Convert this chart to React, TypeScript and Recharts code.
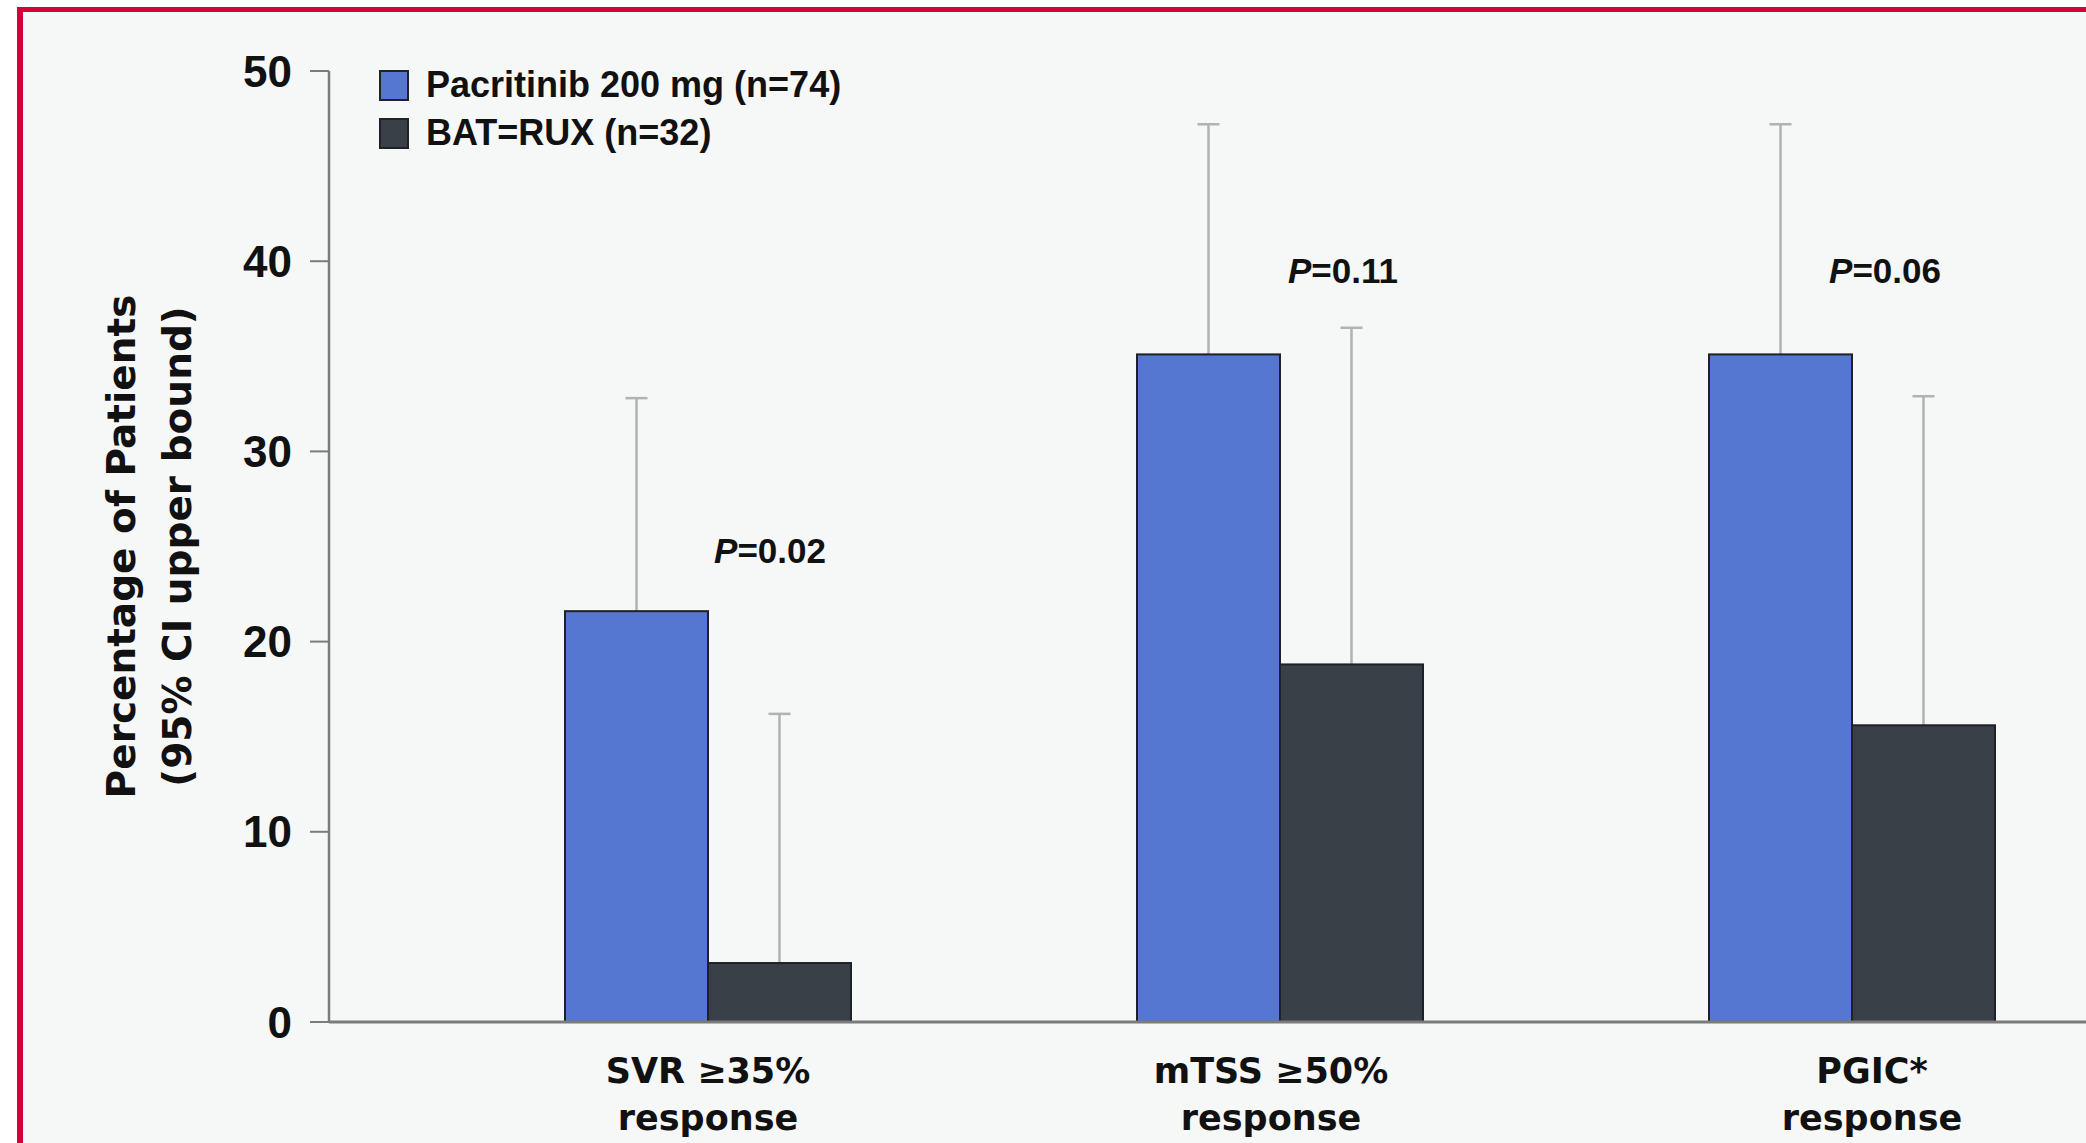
import React from 'react';
import { BarChart, Bar, XAxis, YAxis, Legend, ReferenceDot } from 'recharts';

const categories = ['SVR ≥35% response', 'mTSS ≥50% response', 'PGIC* response'];
const seriesNames = ['Pacritinib 200 mg (n=74)', 'BAT=RUX (n=32)'];
const pacritinib = [21.6, 35.1, 35.1];
const pacritinibUpper = [32.8, 47.2, 47.2];
const batRux = [3.1, 18.8, 15.6];
const batRuxUpper = [16.2, 36.5, 32.9];
const pValues = ['0.02', '0.11', '0.06'];
const pValueLevels = [24.8, 39.5, 39.5];
const yTicks = [0, 10, 20, 30, 40, 50];

const data = categories.map((name, i) => ({
  name,
  pac: pacritinib[i],
  pacUp: pacritinibUpper[i],
  bat: batRux[i],
  batUp: batRuxUpper[i],
}));

// horizontal shifts (px) of the P labels and category labels from the category centre
const pLabelDx = [62, 63, 33];
const catLabelDx = [0, -9, 20];

const ARIAL = '"Liberation Sans", Arial, Helvetica, sans-serif';
const DEJAVU = '"DejaVu Sans", Verdana, sans-serif';
const AXIS_GREY = '#7b7b7b';
const WHISKER = '#b2b2b2';

// bar + one-sided upper CI whisker
const barWithUpper = (upperKey: string) => (props: any) => {
  const { x, y, width, height, fill, payload, value } = props;
  const v = Array.isArray(value) ? value[1] - value[0] : value;
  const perUnit = v ? height / v : 0;
  const upperY = y + height - payload[upperKey] * perUnit;
  const cx = x + width / 2;
  return (
    <g>
      <line x1={cx} x2={cx} y1={upperY} y2={y} stroke={WHISKER} strokeWidth={2.5} />
      <line x1={cx - 11} x2={cx + 11} y1={upperY} y2={upperY} stroke={WHISKER} strokeWidth={2.5} />
      <rect x={x} y={y} width={width} height={height} fill={fill} stroke="#1e2125" strokeWidth={2} />
    </g>
  );
};

const XTick = (props: any) => {
  const { x, y, payload, index } = props;
  const text: string = payload.value;
  const cut = text.lastIndexOf(' ');
  const tx = x + (catLabelDx[index] || 0);
  return (
    <g>
      <text x={tx} y={y + 61} textAnchor="middle" fontFamily={DEJAVU} fontWeight={700} fontSize={35} fill="#111">
        {text.slice(0, cut)}
      </text>
      <text x={tx} y={y + 108} textAnchor="middle" fontFamily={DEJAVU} fontWeight={700} fontSize={35} fill="#111">
        {text.slice(cut + 1)}
      </text>
    </g>
  );
};

const YTitle = (props: any) => {
  const vb = props.viewBox;
  const cy = vb.y + vb.height / 2;
  const x1 = vb.x - 94;
  const x2 = vb.x - 38;
  const common = { textAnchor: 'middle' as const, fontFamily: DEJAVU, fontWeight: 700, fontSize: 39, fill: '#111' };
  return (
    <g>
      <text x={x1} y={cy} transform={`rotate(-90, ${x1}, ${cy})`} {...common}>
        Percentage of Patients
      </text>
      <text x={x2} y={cy} transform={`rotate(-90, ${x2}, ${cy})`} {...common}>
        (95% CI upper bound)
      </text>
    </g>
  );
};

const renderLegend = (props: any) => {
  const items = [...(props.payload || [])].sort(
    (a: any, b: any) => seriesNames.indexOf(a.value) - seriesNames.indexOf(b.value)
  );
  return (
    <div>
      {items.map((entry: any) => (
        <div key={entry.value} style={{ display: 'flex', alignItems: 'center', height: 48 }}>
          <span
            style={{
              display: 'inline-block',
              boxSizing: 'border-box',
              width: 30,
              height: 31,
              background: entry.color,
              border: '2px solid #1e2125',
              marginRight: 17,
            }}
          />
          <span style={{ fontFamily: ARIAL, fontWeight: 700, fontSize: 36, color: '#111', whiteSpace: 'nowrap' }}>
            {entry.value}
          </span>
        </div>
      ))}
    </div>
  );
};

const pLabel = (i: number) => (props: any) => {
  const vb = props.viewBox;
  const cx = vb.x + vb.width / 2 + pLabelDx[i];
  const cy = vb.y + vb.height / 2 + 12.5;
  return (
    <text x={cx} y={cy} textAnchor="middle" fontFamily={ARIAL} fontWeight={700} fontSize={35} fill="#111">
      <tspan fontStyle="italic">P</tspan>={pValues[i]}
    </text>
  );
};

export default function App() {
  return (
    <div style={{ position: 'fixed', left: 0, top: 0, width: 2086, height: 1143, overflow: 'hidden', background: '#fff' }}>
      <div
        style={{
          position: 'absolute',
          left: 17,
          top: 7,
          width: 2200,
          height: 1300,
          background: '#f6f7f7',
          borderLeft: '6px solid #d3023a',
          borderTop: '5px solid #d3023a',
        }}
      />
      <div style={{ position: 'absolute', left: 0, top: 0 }}>
        <BarChart
          width={2200}
          height={1143}
          data={data}
          margin={{ top: 71, right: 0, bottom: 0, left: 229 }}
          barCategoryGap="25%"
          barGap={0}
        >
          <XAxis
            dataKey="name"
            padding={{ left: 93, right: 62 }}
            height={121}
            tickLine={false}
            tickSize={0}
            tickMargin={0}
            interval={0}
            axisLine={{ stroke: AXIS_GREY, strokeWidth: 3 }}
            tick={<XTick />}
          />
          <YAxis
            domain={[0, 50]}
            ticks={yTicks}
            interval={0}
            width={100}
            tickSize={19}
            tickMargin={18}
            axisLine={{ stroke: AXIS_GREY, strokeWidth: 2.5 }}
            tickLine={{ stroke: AXIS_GREY, strokeWidth: 2 }}
            tick={{ fill: '#111', fontSize: 44, fontWeight: 700, fontFamily: ARIAL }}
            label={{ content: YTitle }}
          />
          <Legend
            layout="horizontal"
            verticalAlign="middle"
            align="center"
            content={renderLegend}
            wrapperStyle={{ left: 379, top: 61, width: 'auto' }}
          />
          <Bar
            dataKey="pac"
            name={seriesNames[0]}
            fill="#5577d1"
            shape={barWithUpper('pacUp')}
            isAnimationActive={false}
          />
          <Bar
            dataKey="bat"
            name={seriesNames[1]}
            fill="#3a4047"
            shape={barWithUpper('batUp')}
            isAnimationActive={false}
          />
          {categories.map((c, i) => (
            <ReferenceDot
              key={c}
              x={c}
              y={pValueLevels[i]}
              r={1}
              fill="none"
              stroke="none"
              label={{ content: pLabel(i) }}
            />
          ))}
        </BarChart>
      </div>
    </div>
  );
}
